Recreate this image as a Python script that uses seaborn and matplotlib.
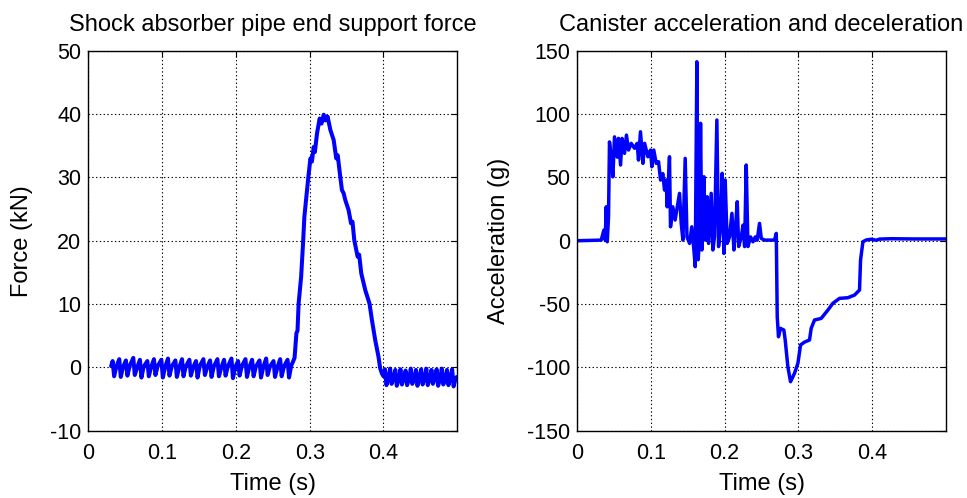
import matplotlib
matplotlib.use("Agg")
import matplotlib.pyplot as plt
import seaborn as sns

sns.set_style("white")
plt.rcParams['font.family'] = ['Liberation Sans', 'DejaVu Sans']
plt.rcParams['axes.unicode_minus'] = False
plt.rcParams['text.color'] = 'black'
plt.rcParams['axes.labelcolor'] = 'black'

# ---- data ----
# shock absorber pipe end support force (kN) vs time (s)
force_t = [
    0.031, 0.033, 0.035, 0.038, 0.042, 0.044, 0.047, 0.051, 0.053, 0.056,
    0.061, 0.063, 0.066, 0.070, 0.072, 0.075, 0.080, 0.082, 0.085, 0.089,
    0.091, 0.094, 0.099, 0.101, 0.104, 0.108, 0.110, 0.113, 0.118, 0.120,
    0.123, 0.127, 0.129, 0.132, 0.137, 0.139, 0.142, 0.146, 0.148, 0.151,
    0.156, 0.158, 0.161, 0.165, 0.167, 0.170, 0.175, 0.177, 0.180, 0.184,
    0.186, 0.189, 0.194, 0.196, 0.199, 0.203, 0.205, 0.208, 0.213, 0.215,
    0.218, 0.222, 0.224, 0.227, 0.232, 0.234, 0.237, 0.241, 0.243, 0.246,
    0.251, 0.253, 0.256, 0.260, 0.262, 0.265, 0.270, 0.272, 0.275, 0.277,
    0.2795, 0.282, 0.2835, 0.285, 0.2884, 0.291, 0.2928, 0.2955, 0.2982, 0.301,
    0.303, 0.3054, 0.307, 0.310, 0.3135, 0.316, 0.319, 0.3215, 0.3243, 0.328,
    0.3325, 0.336, 0.338, 0.3406, 0.3437, 0.346, 0.3483, 0.3527, 0.356, 0.358,
    0.3604, 0.3649, 0.367, 0.3699, 0.3753, 0.381, 0.3843, 0.3888, 0.3932, 0.3955,
    0.398, 0.400, 0.402, 0.404, 0.407, 0.409, 0.411, 0.414, 0.416, 0.418,
    0.421, 0.423, 0.425, 0.428, 0.430, 0.432, 0.435, 0.437, 0.439, 0.442,
    0.444, 0.446, 0.449, 0.451, 0.453, 0.456, 0.458, 0.460, 0.463, 0.465,
    0.467, 0.470, 0.472, 0.474, 0.477, 0.479, 0.481, 0.484, 0.486, 0.488,
    0.491, 0.493, 0.495, 0.498, 0.500,
]
force_kn = [
    0.2, 1.0, -1.4, 0.1, 1.3, -1.5, 0.0, 1.1, -1.3, 0.2,
    1.5, -1.2, -0.1, 1.2, -1.6, 0.1, 1.0, -1.4, 0.0, 1.3,
    -1.2, 0.2, 1.2, -1.6, 0.0, 1.4, -1.3, 0.1, 1.1, -1.5,
    -0.1, 1.3, -1.4, 0.1, 1.2, -1.3, 0.0, 1.0, -1.6, 0.2,
    1.3, -1.2, 0.0, 1.1, -1.5, 0.1, 1.3, -1.4, -0.1, 1.2,
    -1.3, 0.1, 1.4, -1.7, 0.0, 1.0, -1.3, 0.2, 1.3, -1.5,
    0.0, 1.2, -1.4, 0.1, 1.1, -1.6, 0.0, 1.4, -1.2, 0.1,
    1.0, -1.5, -0.1, 1.3, -1.4, 0.1, 1.2, -1.6, 0.3, 0.8,
    1.5, 5.4, 5.8, 10.1, 14.3, 19.6, 23.8, 26.9, 30.1, 33.0,
    32.5, 34.8, 34.0, 37.0, 39.3, 38.5, 39.9, 39.0, 39.6, 37.5,
    35.9, 33.0, 33.5, 30.9, 28.0, 27.5, 26.4, 24.85, 22.75, 23.0,
    20.1, 17.5, 17.8, 14.85, 12.2, 10.1, 7.5, 4.3, 1.7, -0.15,
    -1.0, -1.4, -0.3, -2.8, -1.6, -0.2, -2.6, -1.5, -0.4, -2.9,
    -1.7, -0.3, -2.7, -1.5, -0.5, -2.8, -1.6, -0.2, -2.6, -1.7,
    -0.4, -2.9, -1.5, -0.3, -2.7, -1.6, -0.2, -2.8, -1.7, -0.4,
    -2.6, -1.5, -0.3, -2.9, -1.6, -0.2, -2.7, -1.7, -0.4, -2.8,
    -1.5, -0.3, -3.0, -1.6, -1.5,
]

# canister acceleration (g) vs time (s)
accel_t = [
    0.000, 0.0328, 0.0364, 0.0382, 0.0396, 0.041, 0.0427, 0.044, 0.0463, 0.0486,
    0.0508, 0.0545, 0.0562, 0.059, 0.061, 0.0644, 0.067, 0.0698, 0.0734, 0.0779,
    0.0815, 0.0833, 0.086, 0.0893, 0.0916, 0.096, 0.0996, 0.1014, 0.104, 0.1073,
    0.1105, 0.1132, 0.1163, 0.1186, 0.1208, 0.1222, 0.1253, 0.1267, 0.1298, 0.1329,
    0.1389, 0.1412, 0.1435, 0.1466, 0.149, 0.1525, 0.1555, 0.1584, 0.1602, 0.1624,
    0.1642, 0.166, 0.1674, 0.1692, 0.172, 0.1738, 0.1764, 0.1783, 0.1818, 0.1841,
    0.1863, 0.1895, 0.1918, 0.1944, 0.1967, 0.199, 0.2008, 0.2035, 0.2066, 0.2099,
    0.2126, 0.2148, 0.2171, 0.219, 0.2226, 0.2249, 0.2271, 0.2293, 0.2316, 0.2352,
    0.2384, 0.2416, 0.2442, 0.2473, 0.2497, 0.254, 0.2676, 0.270, 0.2713, 0.273,
    0.2757, 0.2803, 0.2821, 0.2857, 0.2893, 0.2947, 0.2993, 0.3029, 0.3083, 0.315,
    0.3173, 0.3218, 0.3309, 0.340, 0.3467, 0.3557, 0.367, 0.376, 0.3828, 0.3842,
    0.3874, 0.3919, 0.3986, 0.4054, 0.410, 0.4257, 0.4573, 0.500,
]
accel_g = [
    0.0, 0.5, 8.4, 0.5, 26.8, -0.8, 19.0, 78.0, 66.3, 50.5,
    82.0, 66.0, 80.8, 59.8, 80.8, 69.0, 83.4, 71.6, 76.9, 73.0,
    76.9, 63.7, 86.0, 61.1, 76.9, 66.3, 71.6, 58.4, 71.6, 61.1,
    62.4, 47.9, 53.0, 40.0, 47.9, 26.8, 66.3, 11.0, 26.8, 16.3,
    37.4, 13.7, 0.5, 65.0, 3.0, -2.1, 11.0, -7.3, -20.5, 141.3,
    -15.0, 3.0, 92.7, -7.3, 50.5, 0.5, 34.7, -2.1, 37.4, -7.3,
    3.0, 95.3, -4.6, 11.0, 53.2, -10.0, 47.9, -2.1, 3.0, 21.6,
    -7.3, 11.0, 30.8, -4.6, 3.0, 12.3, -4.6, 59.8, -4.6, 3.0,
    -0.8, 3.0, 0.5, 13.7, 1.8, 0.5, 0.5, 5.8, -60.0, -75.8,
    -69.2, -70.5, -78.4, -99.5, -111.3, -104.7, -96.8, -82.3, -80.0, -78.4,
    -69.2, -62.6, -61.3, -54.7, -49.4, -45.5, -45.0, -42.9, -38.9, -15.2,
    -0.8, 0.6, 1.2, 0.4, 1.3, 1.6, 1.4, 1.4,
]

x_ticks = [0, 0.1, 0.2, 0.3, 0.4]
x_ticklabels = ["0", "0.1", "0.2", "0.3", "0.4"]
force_ticks = [-10, 0, 10, 20, 30, 40, 50]
accel_ticks = [-150, -100, -50, 0, 50, 100, 150]

fig = plt.figure(figsize=(9.67, 4.98), dpi=100)
ax1 = fig.add_axes([0.0913, 0.1351, 0.3816, 0.763])
ax2 = fig.add_axes([0.5967, 0.1351, 0.3816, 0.763])

sns.lineplot(x=force_t, y=force_kn, ax=ax1, color="#0000ff", lw=2.9,
             estimator=None, sort=False)
sns.lineplot(x=accel_t, y=accel_g, ax=ax2, color="#0000ff", lw=2.5,
             estimator=None, sort=False)

panels = [
    (ax1, force_ticks, "Force (kN)", "Shock absorber pipe end support force"),
    (ax2, accel_ticks, "Acceleration (g)", "Canister acceleration and deceleration"),
]
for ax, yt, ylab, title in panels:
    ax.set_xlim(0, 0.5)
    ax.set_ylim(yt[0], yt[-1])
    ax.set_xticks(x_ticks)
    ax.set_xticklabels(x_ticklabels)
    ax.set_yticks(yt)
    ax.set_yticklabels([str(v) for v in yt])
    ax.grid(True, color="black", linestyle=(0, (1.2, 2.2)), linewidth=0.8)
    ax.tick_params(direction="in", length=4, width=0.8, top=True, right=True,
                   labelsize=15.5, colors="black")
    ax.tick_params(axis="x", pad=9)
    ax.tick_params(axis="y", pad=5)
    for sp in ax.spines.values():
        sp.set_color("black")
        sp.set_linewidth(1.0)
    ax.set_xlabel("Time (s)", fontsize=17, labelpad=6)
    ax.set_ylabel(ylab, fontsize=17, labelpad=12)
    ax.set_title(title, fontsize=17, pad=14)

fig.savefig("out.png", dpi=100)
